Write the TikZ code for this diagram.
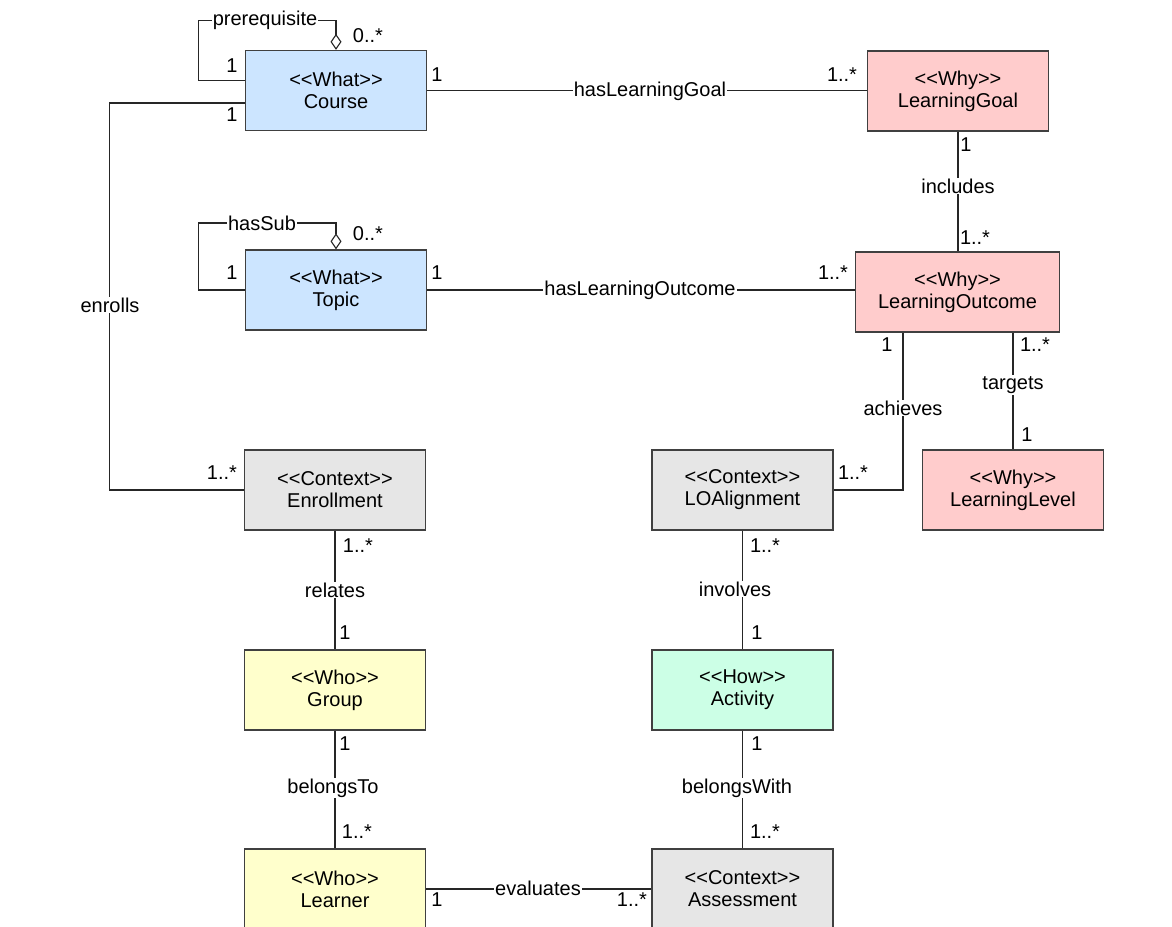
\documentclass[tikz,border=0pt]{standalone}
\usepackage{fontspec}
\setmainfont{Liberation Sans}[Ligatures=TeXOff]
\usetikzlibrary{arrows.meta}
\definecolor{cwhat}{HTML}{CCE5FF}
\definecolor{cwhy}{HTML}{FFCCCC}
\definecolor{cctx}{HTML}{E6E6E6}
\definecolor{cwho}{HTML}{FFFFCC}
\definecolor{chow}{HTML}{CCFFE6}
\definecolor{cedge}{HTML}{404040}
\begin{document}
\begin{tikzpicture}[x=1pt,y=-1pt,font=\fontsize{20}{22}\selectfont,
  cls/.style={draw=cedge,line width=1.3pt,minimum width=181pt,minimum height=80pt,align=center,inner sep=0pt},
  conn/.style={draw=black!85,line width=1.1pt},
  lbl/.style={fill=white,inner sep=1pt},
  mult/.style={inner sep=0pt},
  agg/.style={-{Diamond[open,length=16pt,width=11pt,fill=white]}}]
\useasboundingbox (0,0) rectangle (1172,926);
\fill[white] (0,0) rectangle (1172,926);
\clip (0,0) rectangle (1172,926);
% classes
\node[cls,fill=cwhat] (Course) at (336,90.5) {<<What>>\\Course};
\node[cls,fill=cwhy] (LG) at (958,91) {<<Why>>\\LearningGoal};
\node[cls,fill=cwhat] (Topic) at (336,290) {<<What>>\\Topic};
\node[cls,fill=cwhy,minimum width=204pt] (LO) at (957.5,292) {<<Why>>\\LearningOutcome};
\node[cls,fill=cctx] (Enr) at (335,490) {<<Context>>\\Enrollment};
\node[cls,fill=cctx] (LOA) at (742.5,490) {<<Context>>\\LOAlignment};
\node[cls,fill=cwhy] (LL) at (1013,490) {<<Why>>\\LearningLevel};
\node[cls,fill=cwho] (Group) at (335,690) {<<Who>>\\Group};
\node[cls,fill=chow] (Act) at (742.5,690) {<<How>>\\Activity};
\node[cls,fill=cwho] (Learner) at (335,889) {<<Who>>\\Learner};
\node[cls,fill=cctx] (Assess) at (742.5,889) {<<Context>>\\Assessment};
% connectors
\draw[conn,agg] ([yshift=10pt]Course.west) -- ++(-46,0) -- ++(0,-60) -| (Course.north);
\draw[conn,agg] (Topic.west) -- ++(-46,0) -- ++(0,-67) -| (Topic.north);
\draw[conn] ([yshift=-12.5pt]Course.west) -- ++(-135,0) |- (Enr.west);
\draw[conn] (Course.east) -- (Course.east -| LG.west);
\draw[conn] (LG.south) -- (LG.south |- LO.north);
\draw[conn] (Topic.east) -- (Topic.east -| LO.west);
\draw[conn] ([xshift=-54.5pt]LO.south) |- (LOA.east);
\draw[conn] (LO.south -| LL.north) -- (LL.north);
\draw[conn] (Enr.south) -- (Group.north);
\draw[conn] (Group.south) -- (Learner.north);
\draw[conn] (LOA.south) -- (Act.north);
\draw[conn] (Act.south) -- (Assess.north);
\draw[conn] (Learner.east) -- (Assess.west);
% association labels
\node[lbl] (lprq) at (265,20.5) {prerequisite};
\node[lbl] (lsub) at (262,223) {hasSub};
\node[lbl] (lenr) at (110,305) {enrolls};
\node[lbl] (lhlg) at (650,91) {hasLearningGoal};
\node[lbl] (lhlo) at (640,290.5) {hasLearningOutcome};
\node[lbl] (linc) at (958,186) {includes};
\node[lbl] (lach) at (903,408) {achieves};
\node[lbl] (ltar) at (1013,385) {targets};
\node[lbl] (lrel) at (335,590) {relates};
\node[lbl] (linv) at (735,589) {involves};
\node[lbl] (lbto) at (333,788) {belongsTo};
\node[lbl] (lbwi) at (737,788) {belongsWith};
\node[lbl] (leva) at (538,888) {evaluates};
% multiplicities
\node[mult] (m1) at (368,36) {0..*};
\node[mult] (m2) at (232,66) {1};
\node[mult] (m3) at (232,115) {1};
\node[mult] (m4) at (437,75) {1};
\node[mult] (m5) at (842,75) {1..*};
\node[mult] (m6) at (368,234) {0..*};
\node[mult] (m7) at (232,273) {1};
\node[mult] (m8) at (437,273) {1};
\node[mult] (m9) at (833,273) {1..*};
\node[mult] (m10) at (966,145) {1};
\node[mult] (m11) at (975,238) {1..*};
\node[mult] (m12) at (887,345) {1};
\node[mult] (m13) at (853,473) {1..*};
\node[mult] (m14) at (1035,345) {1..*};
\node[mult] (m15) at (1027,435) {1};
\node[mult] (m16) at (222,473) {1..*};
\node[mult] (m17) at (358,546) {1..*};
\node[mult] (m18) at (345,633) {1};
\node[mult] (m19) at (765,546) {1..*};
\node[mult] (m20) at (757,633) {1};
\node[mult] (m21) at (345,744) {1};
\node[mult] (m22) at (357,832) {1..*};
\node[mult] (m23) at (757,744) {1};
\node[mult] (m24) at (765,832) {1..*};
\node[mult] (m25) at (437,900) {1};
\node[mult] (m26) at (632,900) {1..*};
\end{tikzpicture}
\end{document}
